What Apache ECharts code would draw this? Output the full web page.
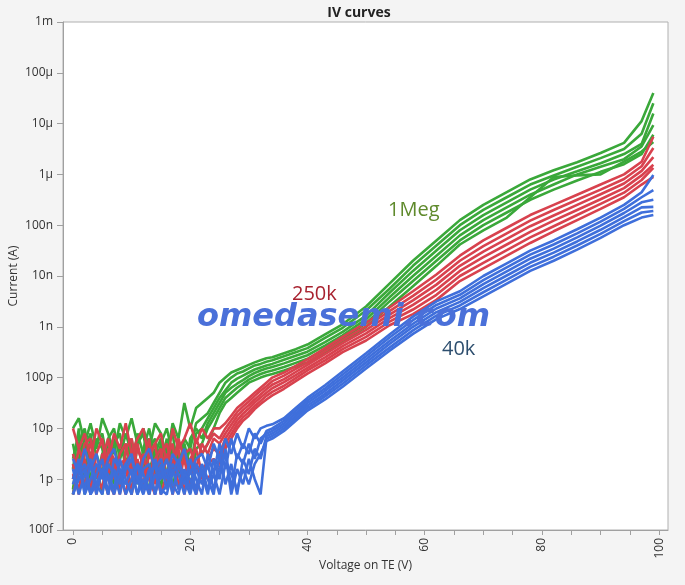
<!DOCTYPE html>
<html>
<head>
<meta charset="utf-8">
<script src="https://cdn.jsdelivr.net/npm/echarts@6/dist/echarts.min.js"></script>
<style>
  html,body{margin:0;padding:0;background:#f4f4f4;}
  #chart{width:685px;height:585px;}
</style>
</head>
<body>
<div id="chart"></div>
<script>
// voltage steps shared by every curve (1 V in the noisy part, coarser later)
const volts = [0,1,2,3,4,5,6,7,8,9,10,11,12,13,14,15,16,17,18,19,20,21,22,23,24,25,26,27,28,29,30,31,32,33,34,
  36,38,40,43,46,50,54,58,62,66,70,74,78,82,86,90,94,97,99]

// currents, stored as log10(A)
// 1Meg
const g1 = [-11.0,-10.8,-11.3,-10.9,-11.4,-10.8,-11.1,-11.5,-10.9,-11.2,-10.8,-11.3,-11.0,-11.4,-10.9,-11.1,-11.6,-10.9,-11.2,-10.5,-11.0,-10.6,-10.5,
  -10.4,-10.3,-10.1,
  -10.0,-9.9,-9.85,-9.8,-9.75,-9.7,-9.66,-9.62,-9.6,
  -9.52,-9.44,-9.35,-9.15,-8.95,-8.6,-8.15,-7.7,-7.3,-6.9,-6.6,-6.35,-6.1,-5.92,-5.76,-5.58,-5.38,-4.95,-4.4]
const g2 = [-11.6,-11.1,-11.8,-11.2,-11.5,-11.9,-11.2,-11.0,-11.6,-11.3,-11.8,-11.1,-11.5,-11.2,-11.9,-11.3,-11.0,-11.5,-11.8,-11.2,-11.4,-10.9,-10.8,
  -10.7,-10.5,-10.3,
  -10.1,-10.0,-9.92,-9.88,-9.82,-9.76,-9.73,-9.69,-9.66,
  -9.58,-9.5,-9.42,-9.22,-9.02,-8.68,-8.25,-7.8,-7.4,-7.0,-6.7,-6.45,-6.2,-6.02,-5.85,-5.68,-5.5,-5.2,-4.6]
const g3 = [-12.2,-11.3,-11.0,-11.7,-11.2,-11.4,-12.0,-11.3,-11.1,-11.8,-11.2,-12.1,-11.4,-11.0,-11.6,-12.2,-11.3,-11.1,-11.9,-11.3,-11.8,-11.1,-11.0,
  -10.8,-10.6,-10.4,
  -10.25,-10.1,-10.02,-9.96,-9.9,-9.84,-9.8,-9.76,-9.73,
  -9.65,-9.57,-9.49,-9.3,-9.1,-8.78,-8.33,-7.9,-7.5,-7.1,-6.8,-6.55,-6.3,-6.1,-5.94,-5.78,-5.6,-5.4,-4.8]
const g4 = [-11.3,-11.9,-11.4,-11.1,-12.0,-11.5,-11.3,-11.9,-11.6,-11.1,-11.5,-11.8,-12.2,-11.4,-11.2,-11.7,-11.9,-11.3,-11.6,-12.1,-11.2,-11.0,-11.2,
  -10.9,-10.7,-10.5,
  -10.3,-10.2,-10.12,-10.05,-9.97,-9.91,-9.86,-9.82,-9.79,
  -9.72,-9.64,-9.56,-9.37,-9.17,-8.85,-8.42,-8.0,-7.6,-7.2,-6.9,-6.65,-6.4,-6.2,-6.0,-5.85,-5.7,-5.45,-5.03]
const g5 = [-11.8,-11.0,-12.3,-11.5,-11.3,-11.1,-11.7,-12.1,-11.4,-11.6,-12.3,-11.3,-11.1,-11.8,-11.5,-11.2,-12.0,-11.7,-11.3,-11.5,-12.2,-11.4,-11.3,
  -11.0,-10.8,-10.6,
  -10.4,-10.3,-10.2,-10.12,-10.04,-9.98,-9.93,-9.89,-9.86,
  -9.79,-9.71,-9.63,-9.44,-9.24,-8.93,-8.5,-8.1,-7.7,-7.3,-7.0,-6.75,-6.5,-6.3,-6.12,-5.95,-5.8,-5.6,-5.22]
const g6 = [-12.3,-11.6,-11.2,-12.0,-11.7,-12.3,-11.4,-11.2,-12.1,-11.5,-11.3,-11.9,-11.6,-12.3,-11.4,-11.8,-11.2,-12.2,-11.5,-11.7,-11.4,-11.6,-11.5,
  -11.3,-11.0,-10.7,
  -10.5,-10.4,-10.3,-10.2,-10.1,-10.05,-10.0,-9.96,-9.93,
  -9.86,-9.78,-9.7,-9.5,-9.3,-9.0,-8.6,-8.2,-7.8,-7.38,-7.1,-6.85,-6.45,-6.05,-6.02,-6.0,-5.75,-5.55,-5.36]

// 250k
const r1 = [-11.0,-11.4,-11.1,-11.6,-11.0,-11.3,-11.7,-11.1,-11.4,-10.9,-11.5,-11.2,-11.0,-11.6,-11.3,-11.1,-11.7,-11.0,-11.4,-11.2,-10.9,-11.3,-11.0,-11.2,-11.0,
  -11.0,
  -10.9,-10.75,-10.6,-10.5,-10.4,-10.3,-10.2,-10.1,-10.0,
  -9.9,-9.77,-9.64,-9.42,-9.2,-8.92,-8.62,-8.3,-7.97,-7.6,-7.3,-7.05,-6.8,-6.6,-6.4,-6.2,-6.0,-5.75,-5.26]
const r2 = [-11.5,-11.9,-11.3,-11.2,-11.8,-11.6,-11.2,-12.0,-11.5,-11.3,-11.9,-11.4,-11.7,-11.2,-12.1,-11.5,-11.3,-11.8,-11.2,-11.6,-11.9,-11.2,-11.5,-11.3,-11.1,
  -11.2,
  -11.0,-10.84,-10.68,-10.57,-10.47,-10.36,-10.26,-10.17,-10.07,
  -9.96,-9.83,-9.7,-9.48,-9.26,-8.99,-8.69,-8.39,-8.07,-7.7,-7.41,-7.16,-6.91,-6.7,-6.5,-6.3,-6.09,-5.84,-5.48]
const r3 = [-12.0,-11.4,-11.7,-12.2,-11.5,-11.2,-11.9,-11.6,-12.3,-11.4,-11.2,-11.8,-12.1,-11.5,-11.3,-12.0,-11.6,-11.3,-12.2,-11.5,-11.4,-11.8,-11.3,-11.5,-11.2,
  -11.3,
  -11.1,-10.93,-10.76,-10.64,-10.54,-10.43,-10.33,-10.23,-10.14,
  -10.03,-9.89,-9.75,-9.54,-9.32,-9.06,-8.76,-8.48,-8.17,-7.8,-7.52,-7.27,-7.02,-6.81,-6.6,-6.39,-6.18,-5.93,-5.66]
const r4 = [-11.7,-12.3,-11.5,-11.3,-11.9,-12.2,-11.4,-11.6,-11.9,-12.3,-11.6,-11.3,-11.8,-12.3,-11.6,-11.4,-12.1,-11.7,-11.4,-12.3,-11.6,-11.4,-11.9,-11.6,-11.4,
  -11.5,
  -11.2,-11.02,-10.84,-10.71,-10.61,-10.49,-10.39,-10.3,-10.21,
  -10.09,-9.95,-9.81,-9.6,-9.38,-9.13,-8.83,-8.57,-8.27,-7.9,-7.63,-7.38,-7.13,-6.91,-6.7,-6.49,-6.27,-6.02,-5.81]
const r5 = [-12.3,-11.8,-12.1,-11.6,-12.3,-11.5,-12.0,-12.3,-11.7,-11.6,-12.2,-11.9,-11.5,-12.0,-12.3,-11.7,-11.5,-12.3,-11.8,-11.6,-12.2,-11.7,-12.0,-11.7,-11.6,
  -11.7,
  -11.3,-11.11,-10.92,-10.78,-10.68,-10.56,-10.46,-10.36,-10.28,
  -10.16,-10.01,-9.86,-9.66,-9.44,-9.2,-8.9,-8.66,-8.37,-8.0,-7.74,-7.49,-7.24,-7.02,-6.8,-6.58,-6.36,-6.11,-5.87]
const r6 = [-11.9,-12.2,-11.6,-12.3,-11.8,-11.9,-12.3,-11.7,-12.1,-11.8,-12.3,-11.6,-12.2,-11.8,-11.7,-12.3,-11.9,-11.6,-12.1,-11.9,-11.7,-12.3,-11.8,-12.0,-11.8,
  -11.8,
  -11.4,-11.2,-11.0,-10.85,-10.75,-10.62,-10.52,-10.43,-10.35,
  -10.22,-10.07,-9.92,-9.72,-9.5,-9.27,-8.97,-8.75,-8.47,-8.1,-7.85,-7.6,-7.35,-7.12,-6.9,-6.68,-6.45,-6.2,-6.05]

// 40k
const b1 = [-11.6,-11.9,-11.4,-11.8,-11.5,-12.0,-11.6,-11.4,-11.9,-11.7,-11.5,-12.1,-11.6,-11.4,-11.8,-11.6,-12.0,-11.5,-11.7,-11.4,-11.9,-11.6,-11.5,-11.8,-11.3,-11.6,-11.2,-11.5,-11.1,-11.4,-11.0,
  -11.2,-11.0,-10.95,
  -10.92,
  -10.8,-10.6,-10.4,-10.15,-9.88,-9.52,-9.15,-8.8,-8.5,-8.3,-8.0,-7.75,-7.5,-7.3,-7.08,-6.85,-6.6,-6.35,-6.01]
const b2 = [-12.0,-11.6,-12.2,-11.7,-12.3,-11.8,-11.9,-12.2,-11.6,-12.0,-12.3,-11.7,-11.9,-12.2,-11.6,-12.0,-11.8,-12.3,-11.7,-12.1,-11.6,-12.0,-12.3,-11.5,-11.9,-11.3,-11.8,-11.2,-11.6,-11.3,-11.5,
  -11.1,-11.3,-11.05,
  -11.0,
  -10.85,-10.65,-10.45,-10.21,-9.94,-9.58,-9.21,-8.87,-8.57,-8.37,-8.08,-7.83,-7.58,-7.38,-7.16,-6.93,-6.68,-6.45,-6.31]
const b3 = [-12.3,-11.9,-11.7,-12.3,-11.9,-11.6,-12.3,-11.8,-12.1,-11.7,-11.9,-12.3,-11.8,-11.7,-12.3,-11.9,-11.6,-12.1,-12.3,-11.8,-12.2,-11.7,-11.9,-12.3,-11.6,-12.0,-11.4,-12.2,-11.5,-11.7,-11.3,
  -11.6,-11.2,-11.1,
  -11.05,
  -10.9,-10.7,-10.5,-10.26,-10.0,-9.64,-9.28,-8.94,-8.64,-8.44,-8.16,-7.91,-7.66,-7.46,-7.24,-7.01,-6.76,-6.55,-6.5]
const b4 = [-11.8,-12.3,-11.9,-11.6,-12.1,-12.3,-11.7,-11.9,-12.3,-11.8,-11.6,-12.0,-12.3,-11.9,-11.7,-12.3,-12.1,-11.7,-11.9,-12.3,-11.8,-12.2,-11.7,-12.0,-12.3,-11.5,-12.1,-11.7,-12.3,-11.6,-11.9,
  -11.4,-11.6,-11.15,
  -11.1,
  -10.95,-10.75,-10.55,-10.32,-10.06,-9.7,-9.34,-9.0,-8.71,-8.51,-8.24,-7.99,-7.74,-7.54,-7.32,-7.09,-6.84,-6.65,-6.64]
const b5 = [-12.1,-11.7,-12.3,-12.0,-11.7,-11.9,-12.3,-11.6,-11.8,-12.3,-12.0,-11.7,-12.2,-11.8,-12.3,-11.7,-12.2,-11.9,-11.6,-12.0,-12.3,-11.8,-12.1,-11.7,-12.2,-11.8,-11.5,-12.3,-11.8,-12.1,-11.6,
  -12.0,-12.3,-11.2,
  -11.15,
  -11.0,-10.8,-10.6,-10.37,-10.12,-9.76,-9.41,-9.07,-8.78,-8.58,-8.32,-8.07,-7.82,-7.62,-7.4,-7.17,-6.92,-6.75,-6.72]
const b6 = [-12.3,-12.0,-11.8,-12.3,-12.1,-11.8,-12.0,-12.3,-11.9,-12.1,-11.8,-12.3,-12.0,-12.3,-11.9,-12.2,-12.3,-11.8,-12.2,-11.9,-12.0,-12.3,-11.8,-12.2,-11.9,-12.3,-11.7,-11.9,-12.2,-11.8,-12.1,
  -11.7,-11.5,-11.25,
  -11.2,
  -11.05,-10.85,-10.65,-10.43,-10.18,-9.82,-9.47,-9.14,-8.85,-8.65,-8.4,-8.15,-7.9,-7.7,-7.48,-7.25,-7.0,-6.85,-6.8]

const groups = [
  {name:'1Meg', color:'#3aa83a', curves:[g1,g2,g3,g4,g5,g6]},
  {name:'250k', color:'#d8424e', curves:[r1,r2,r3,r4,r5,r6]},
  {name:'40k',  color:'#3f6fdb', curves:[b1,b2,b3,b4,b5,b6]}
]

const yTickLabels = {'-13':'100f','-12':'1p','-11':'10p','-10':'100p','-9':'1n','-8':'10n','-7':'100n','-6':'1\u03bc','-5':'10\u03bc','-4':'100\u03bc','-3':'1m'}
const compliance = 1e-6

var myChart = echarts.init(document.getElementById('chart'))

let series = []
groups.forEach(gr => {
  gr.curves.forEach((c, k) => {
    if (c.length !== volts.length) console.warn(gr.name, k, c.length)
    series.push({
      name: gr.name,
      type: 'line',
      showSymbol: false,
      animation: false,
      lineStyle: {width: 2.6, color: gr.color},
      itemStyle: {color: gr.color},
      data: c.map((e, i) => [volts[i], Math.pow(10, e)])
    })
  })
})
// dashed 1uA line
series[0].markLine = {
  silent: true,
  symbol: 'none',
  label: {show: false},
  lineStyle: {color: '#333', type: [7, 5], width: 1.5},
  data: [{yAxis: compliance}]
}

let options = {
  backgroundColor: '#f4f4f4',
  animation: false,
  title: {
    text: 'IV curves',
    left: 354, top: 1,
    textAlign: 'center',
    textStyle: {fontFamily: 'Open Sans', fontSize: 14, fontWeight: 'bold', color: '#222'}
  },
  grid: {
    left: 63, right: 17, top: 22, bottom: 55,
    outerBoundsMode: 'none',
    containLabel: false,
    show: true, backgroundColor: '#fff', borderColor: '#b0b0b0', borderWidth: 1
  },
  xAxis: {
    type: 'value',
    min: -1.7, max: 101.5,
    name: 'Voltage on TE (V)',
    nameLocation: 'middle',
    nameGap: 30,
    nameMoveOverlap: false,
    nameTextStyle: {fontFamily: 'Open Sans', fontSize: 12, color: '#333'},
    axisLine: {onZero: false, lineStyle: {color: '#a0a0a0'}},
    axisTick: {show: true, length: 5, lineStyle: {color: '#a0a0a0'},
      customValues: [0,5,10,15,20,25,30,35,40,45,50,55,60,65,70,75,80,85,90,95,100]},
    axisLabel: {rotate: 90, margin: 8, color: '#333', fontFamily: 'Open Sans', fontSize: 12,
      customValues: [0,20,40,60,80,100]},
    splitLine: {show: false}
  },
  yAxis: {
    type: 'log',
    logBase: 10,
    min: 1e-13, max: 1e-3,
    name: 'Current (A)',
    nameLocation: 'middle',
    nameGap: 43,
    nameMoveOverlap: false,
    nameTextStyle: {fontFamily: 'Open Sans', fontSize: 12, color: '#333'},
    axisLine: {show: true, onZero: false, lineStyle: {color: '#a0a0a0'}},
    axisTick: {show: true, length: 6, lineStyle: {color: '#a0a0a0'}},
    axisLabel: {
      margin: 10, color: '#333', fontFamily: 'Open Sans', fontSize: 12,
      formatter: v => yTickLabels[String(Math.round(Math.log10(v)))] || ''
    },
    splitLine: {show: false}
  },
  graphic: [
    {type: 'text', left: 388, top: 200, z: 100,
      style: {text: '1Meg', fill: '#5f8a2c', font: '20px "Open Sans"'}},
    {type: 'text', left: 292, top: 284, z: 100,
      style: {text: '250k', fill: '#a8222f', font: '20px "Open Sans"'}},
    {type: 'text', left: 442, top: 339, z: 100,
      style: {text: '40k', fill: '#2d4e6e', font: '20px "Open Sans"'}},
    {type: 'text', left: 197, top: 302, z: 101,
      style: {text: 'omedasemi.com', fill: '#4a70d9', font: 'italic bold 32px "DejaVu Sans"'}}
  ],
  series: series
}
myChart.setOption(options)
</script>
</body>
</html>
